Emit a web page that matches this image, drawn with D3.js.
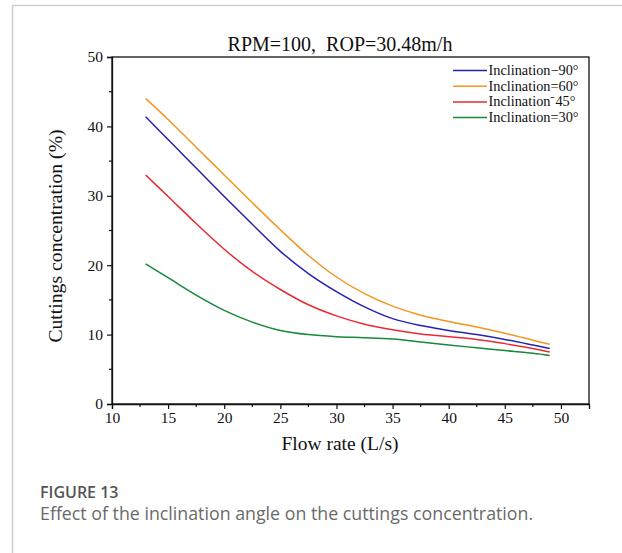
<!DOCTYPE html>
<html>
<head>
<meta charset="utf-8">
<script src="https://cdn.jsdelivr.net/npm/d3@7"></script>
<style>
  html, body { margin: 0; padding: 0; background: #fff; }
  svg { display: block; }
</style>
</head>
<body>
<svg id="chart" width="622" height="553"></svg>
<script>
// Flow rate (L/s) sampling points
const flowRate = [13, 15, 17.5, 20, 22.5, 25, 27.5, 30, 32.5, 35, 37.5, 40, 42.5, 45, 47.5, 49];

// Cuttings concentration (%) per inclination angle
const incl90 = [41.4, 38.1, 34.0, 29.9, 25.9, 22.0, 18.8, 16.2, 14.0, 12.3, 11.3, 10.6, 10.0, 9.3, 8.5, 8.0];
const incl60 = [44.0, 41.0, 37.0, 33.0, 29.0, 25.1, 21.4, 18.3, 15.9, 14.1, 12.8, 11.9, 11.1, 10.2, 9.2, 8.6];
const incl45 = [33.0, 29.9, 26.0, 22.3, 19.1, 16.5, 14.3, 12.7, 11.5, 10.7, 10.1, 9.7, 9.3, 8.7, 8.0, 7.5];
const incl30 = [20.2, 18.2, 15.7, 13.5, 11.8, 10.6, 10.0, 9.7, 9.55, 9.35, 8.95, 8.5, 8.1, 7.7, 7.3, 7.0];

const seriesNames = ["Inclination\u221290\u00b0", "Inclination=60\u00b0", "Inclination\u207b45\u00b0", "Inclination=30\u00b0"];
const seriesValues = [incl90, incl60, incl45, incl30];
const seriesColors = ["#2323b0", "#f2961f", "#e82a32", "#16893a"];

const xTicks = [10, 15, 20, 25, 30, 35, 40, 45, 50];
const yTicks = [0, 10, 20, 30, 40, 50];

const title = "RPM=100,\u00a0 ROP=30.48m/h";
const xTitle = "Flow rate (L/s)";
const yTitle = "Cuttings concentration (%)";
const figLabel = "FIGURE 13";
const figCaption = "Effect of the inclination angle on the cuttings concentration.";

const svg = d3.select("#chart");
const serif = "'Liberation Serif', 'Times New Roman', serif";
const sans = "'Open Sans', 'Noto Sans', sans-serif";

// Card frame around the figure
svg.append("path")
  .attr("d", "M12.5,553 V5.5 H622")
  .attr("fill", "none").attr("stroke", "#cfcfcf").attr("stroke-width", 1.5);

const plotLeft = 112, plotRight = 589, plotTop = 57, plotBottom = 404;

const x = d3.scaleLinear().domain([10, 52.5]).range([plotLeft, plotRight]);
const y = d3.scaleLinear().domain([0, 50]).range([plotBottom, plotTop]);

// Plot frame
svg.append("rect")
  .attr("x", plotLeft).attr("y", plotTop)
  .attr("width", plotRight - plotLeft).attr("height", plotBottom - plotTop)
  .attr("fill", "none").attr("stroke", "#111").attr("stroke-width", 1.3);

// Minor ticks
const xMinor = d3.range(12.5, 52.5, 5);
const yMinor = d3.range(5, 50, 10);
svg.append("g").selectAll("line").data(xMinor).join("line")
  .attr("x1", d => x(d)).attr("x2", d => x(d))
  .attr("y1", plotBottom).attr("y2", plotBottom + 3)
  .attr("stroke", "#111").attr("stroke-width", 1.2);
svg.append("g").selectAll("line").data(yMinor).join("line")
  .attr("x1", plotLeft - 3).attr("x2", plotLeft)
  .attr("y1", d => y(d)).attr("y2", d => y(d))
  .attr("stroke", "#111").attr("stroke-width", 1.2);

// Major axes
const xAxis = svg.append("g")
  .attr("transform", `translate(0,${plotBottom})`)
  .call(d3.axisBottom(x).tickValues(xTicks).tickSize(5).tickPadding(3));
const yAxis = svg.append("g")
  .attr("transform", `translate(${plotLeft},0)`)
  .call(d3.axisLeft(y).tickValues(yTicks).tickSize(5).tickPadding(4));
[xAxis, yAxis].forEach(g => {
  g.select(".domain").attr("stroke", "#111").attr("stroke-width", 1.3);
  g.selectAll(".tick line").attr("stroke", "#111").attr("stroke-width", 1.2);
  g.selectAll(".tick text")
    .attr("fill", "#111")
    .style("font-family", serif)
    .style("font-size", "15.5px");
});

// Curves
const line = d3.line()
  .x((d, i) => x(flowRate[i]))
  .y(d => y(d))
  .curve(d3.curveCatmullRom.alpha(0.5));

seriesValues.forEach((vals, k) => {
  svg.append("path")
    .datum(vals)
    .attr("d", line)
    .attr("fill", "none")
    .attr("stroke", seriesColors[k])
    .attr("stroke-width", 1.5);
});

// Legend
const legend = svg.append("g");
seriesNames.forEach((name, k) => {
  const ly = 70.5 + k * 15.7;
  legend.append("line")
    .attr("x1", 453).attr("x2", 487)
    .attr("y1", ly).attr("y2", ly)
    .attr("stroke", seriesColors[k]).attr("stroke-width", 1.5);
  legend.append("text")
    .attr("x", 488.5).attr("y", ly + 4.5)
    .attr("fill", "#111")
    .style("font-family", serif)
    .style("font-size", "14.3px")
    .text(name);
});

// Titles
svg.append("text")
  .attr("x", 340).attr("y", 50.5)
  .attr("text-anchor", "middle")
  .attr("fill", "#111")
  .style("font-family", serif).style("font-size", "20px")
  .text(title);

svg.append("text")
  .attr("x", 340).attr("y", 450)
  .attr("text-anchor", "middle")
  .attr("fill", "#111")
  .style("font-family", serif).style("font-size", "19.5px")
  .text(xTitle);

svg.append("text")
  .attr("transform", "translate(62,236) rotate(-90)")
  .attr("text-anchor", "middle")
  .attr("fill", "#111")
  .style("font-family", serif).style("font-size", "19.7px")
  .text(yTitle);

// Figure caption
svg.append("text")
  .attr("x", 40).attr("y", 498)
  .attr("fill", "#555")
  .style("font-family", sans).style("font-size", "16px").style("font-weight", "600")
  .text(figLabel);

svg.append("text")
  .attr("x", 40).attr("y", 520)
  .attr("fill", "#6a6a6a")
  .style("font-family", sans).style("font-size", "17.8px")
  .text(figCaption);
</script>
</body>
</html>
